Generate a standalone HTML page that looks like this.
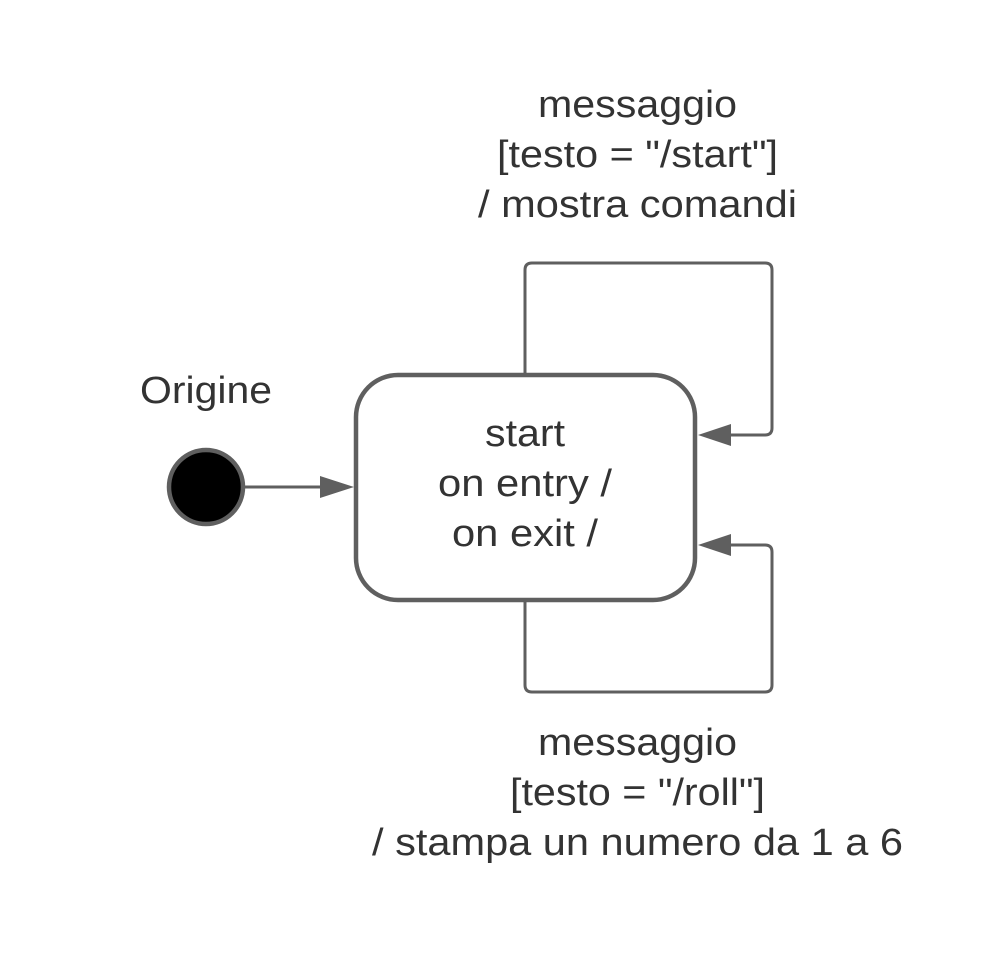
<!DOCTYPE html>
<html><head><meta charset="utf-8"><style>
html,body{margin:0;padding:0;background:#fff;}
svg text{font-family:"Liberation Sans",sans-serif;font-size:38px;fill:#333;}
</style></head><body>
<svg width="994" height="956" viewBox="0 0 994 956" xmlns="http://www.w3.org/2000/svg">
<g fill="none" stroke="#5f5f5f" stroke-width="3">
<path d="M525 374 V270 Q525 263 532 263 H765 Q772 263 772 270 V428 Q772 435 765 435 H728"/>
<path d="M525 601 V685 Q525 692 532 692 H765 Q772 692 772 685 V552 Q772 545 765 545 H728"/>
<line x1="244" y1="487" x2="322" y2="487"/>
</g>
<g fill="#5f5f5f">
<polygon points="698,435 731,424 731,446"/>
<polygon points="698,545 731,534 731,556"/>
<polygon points="354,487 320,476 320,498"/>
</g>
<rect x="356" y="375" width="339" height="225" rx="42" fill="#fff" stroke="#5f5f5f" stroke-width="4.5"/>
<circle cx="206" cy="487" r="37" fill="#000" stroke="#5f5f5f" stroke-width="4.5"/>
<g lengthAdjust="spacingAndGlyphs">
<text x="140" y="403" textLength="132" lengthAdjust="spacingAndGlyphs">Origine</text>
<text x="485" y="446" textLength="80" lengthAdjust="spacingAndGlyphs">start</text>
<text x="438" y="496" textLength="174" lengthAdjust="spacingAndGlyphs">on entry /</text>
<text x="452" y="546" textLength="146" lengthAdjust="spacingAndGlyphs">on exit /</text>
<text x="538" y="117" textLength="199" lengthAdjust="spacingAndGlyphs">messaggio</text>
<text x="497" y="167" textLength="281" lengthAdjust="spacingAndGlyphs">[testo = "/start"]</text>
<text x="478" y="217" textLength="319" lengthAdjust="spacingAndGlyphs">/ mostra comandi</text>
<text x="538" y="755" textLength="199" lengthAdjust="spacingAndGlyphs">messaggio</text>
<text x="510" y="805" textLength="255" lengthAdjust="spacingAndGlyphs">[testo = "/roll"]</text>
<text x="372" y="855" textLength="531" lengthAdjust="spacingAndGlyphs">/ stampa un numero da 1 a 6</text>
</g>
</svg>
</body></html>
